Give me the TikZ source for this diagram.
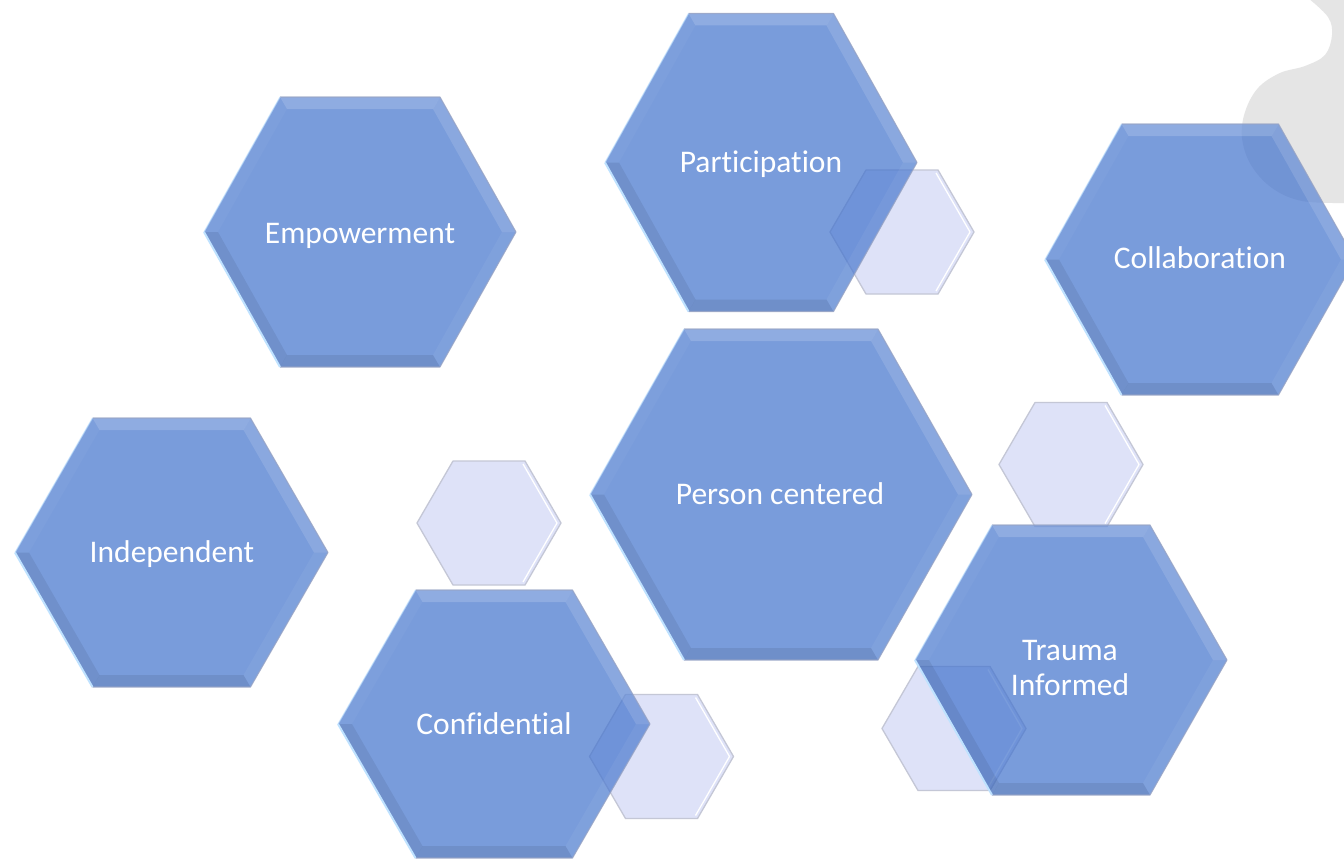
\documentclass[tikz,border=0pt]{standalone}
\usepackage{fontspec}
\setmainfont{Carlito}[Ligatures=NoCommon]
\definecolor{hexblue}{HTML}{4172CD}
\definecolor{paleface}{HTML}{DEE2F8}
\definecolor{palerim}{HTML}{C4C7D6}
\definecolor{blobgray}{HTML}{E5E5E5}
\definecolor{rimgray}{HTML}{97A3C4}
\definecolor{rimblue}{HTML}{BFE2FF}

% large bevelled hexagon: centre x, centre y, half width, half height, half top edge
\newcommand\bluehex[5]{%
  \coordinate (oL)  at ({#1-#3},{#2});
  \coordinate (oTL) at ({#1-#5},{#2-#4});
  \coordinate (oTR) at ({#1+#5},{#2-#4});
  \coordinate (oR)  at ({#1+#3},{#2});
  \coordinate (oBR) at ({#1+#5},{#2+#4});
  \coordinate (oBL) at ({#1-#5},{#2+#4});
  \coordinate (iL)  at ({#1-#3+14},{#2});
  \coordinate (iTL) at ({#1-#5+7},{#2-#4+12});
  \coordinate (iTR) at ({#1+#5-7},{#2-#4+12});
  \coordinate (iR)  at ({#1+#3-14},{#2});
  \coordinate (iBR) at ({#1+#5-7},{#2+#4-12});
  \coordinate (iBL) at ({#1-#5+7},{#2+#4-12});
  \fill[hexblue, fill opacity=0.7] (oL)--(oTL)--(oTR)--(oR)--(oBR)--(oBL)--cycle;
  % bevel facets
  \fill[white, fill opacity=0.17] (oTL)--(oTR)--(iTR)--(iTL)--cycle;
  \fill[white, fill opacity=0.13] (oTR)--(oR)--(iR)--(iTR)--cycle;
  \fill[white, fill opacity=0.05] (oR)--(oBR)--(iBR)--(iR)--cycle;
  \fill[black, fill opacity=0.08] (oBR)--(oBL)--(iBL)--(iBR)--cycle;
  \fill[black, fill opacity=0.07] (oBL)--(oL)--(iL)--(iBL)--cycle;
  \fill[white, fill opacity=0.03] (oL)--(oTL)--(iTL)--(iL)--cycle;
  % rim
  \draw[rimgray, line width=1.1pt, draw opacity=0.8, line join=round]
    (oTL)--(oTR)--(oR)--(oBR)--(oBL);
  \draw[rimblue, line width=2pt, line join=round] (oBL)--(oL);
  \draw[rimblue, line width=1.2pt, draw opacity=0.6] (oL)--(oTL);
}

% small pale hexagon: centre x, centre y
\newcommand\palehex[2]{%
  \coordinate (pL)  at ({#1-72},{#2});
  \coordinate (pTL) at ({#1-36},{#2-62});
  \coordinate (pTR) at ({#1+36},{#2-62});
  \coordinate (pR)  at ({#1+72},{#2});
  \coordinate (pBR) at ({#1+36},{#2+62});
  \coordinate (pBL) at ({#1-36},{#2+62});
  \fill[paleface] (pL)--(pTL)--(pTR)--(pR)--(pBR)--(pBL)--cycle;
  \draw[palerim, line width=1.3pt, line join=round]
    (pL)--(pTL)--(pTR)--(pR)--(pBR)--(pBL)--cycle;
  \draw[white, line width=1.3pt, line join=round]
    ({#1+34},{#2-59})--({#1+68},{#2})--({#1+34},{#2+59});
}

\begin{document}
\begin{tikzpicture}[x=1pt, y=-1pt,
  lbl/.style={text=white, font=\fontsize{31.5}{35}\selectfont, inner sep=0pt, align=center}]
\useasboundingbox (0,0) rectangle (1344,859);
\fill[white] (0,0) rectangle (1344,859);

% soft grey shape in the upper right corner
\fill[blobgray] plot[smooth, tension=0.6] coordinates {(1308,-2) (1328,17) (1332,35)
  (1325,55) (1305,66) (1280,73) (1258,88) (1245,112) (1242,138) (1251,165)
  (1272,188) (1302,201) (1346,203)} -- (1346,-2) -- cycle;

% small pale hexagons (behind)
\palehex{902}{232}
\palehex{489}{523}
\palehex{661.5}{756.5}
\palehex{1071}{464.5}
\palehex{954}{728.5}

% large hexagons
\bluehex{360}{232}{156}{135}{80}
\bluehex{761}{162.5}{156}{149}{72.5}
\bluehex{1200}{259.5}{155}{135.5}{78.5}
\bluehex{171.5}{552.5}{156.5}{134.5}{79}
\bluehex{781}{494.5}{191}{165.5}{97}
\bluehex{494}{724}{156}{134}{78.5}
\bluehex{1071}{660}{156}{135}{79}

% labels
\node[lbl, anchor=base] (empowerment) at (360,243) {Empowerment};
\node[lbl, anchor=base] (participation) at (761,172) {Participation};
\node[lbl, anchor=base] (collaboration) at (1200,268) {Collaboration};
\node[lbl, anchor=base] (independent) at (172,562) {Independent};
\node[lbl, anchor=base] (personcentered) at (780,504) {Person centered};
\node[lbl, anchor=base] (confidential) at (494,734) {Confidential};
\node[lbl, anchor=center] (trauma) at (1070,668) {Trauma\\Informed};
\end{tikzpicture}
\end{document}
